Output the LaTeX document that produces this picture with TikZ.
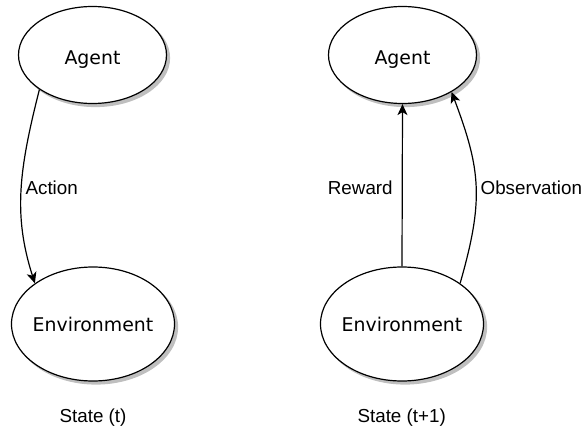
\documentclass[tikz,border=0pt]{standalone}
\usepackage{fontspec}
\newfontfamily\shapefont{DejaVu Sans}
\newfontfamily\labelfont{Liberation Sans}
\usetikzlibrary{arrows.meta,shapes.geometric}
\tikzset{
  ell/.style={ellipse, draw=black, line width=1.2pt, fill=white, inner sep=0pt,
    preaction={draw=gray!50, fill=gray!50, line width=1.2pt, transform canvas={shift={(3pt,-3pt)}}}},
  shapetxt/.style={font=\shapefont\fontsize{18.9}{22}\selectfont, inner sep=0pt, anchor=base},
  lbl/.style={font=\labelfont\fontsize{18.8}{22}\selectfont, inner sep=0pt, anchor=base},
  conn/.style={draw=black, line width=1.2pt, -{Stealth[length=11pt, width=10pt, inset=3pt]}},
}
\begin{document}
\begin{tikzpicture}[x=1pt, y=-1pt]
\useasboundingbox (0,0) rectangle (584,428);
% left
\node[ell, minimum width=148pt, minimum height=97pt] (la) at (92.5,55) {};
\node[ell, minimum width=163pt, minimum height=114pt] (le) at (93,324) {};
\node[shapetxt] (lat) at (92.5,64.3) {Agent};
\node[shapetxt] (let) at (93,331.7) {Environment};
\draw[conn] (la.213) .. controls (19,170) and (13,215) .. (le.145);
\node[lbl] (act) at (51.7,194.3) {Action};
\node[lbl] (st1) at (93,422) {State (t)};
% right
\node[ell, minimum width=148pt, minimum height=97pt] (ra) at (402.5,55) {};
\node[ell, minimum width=163pt, minimum height=114pt] (re) at (402,324) {};
\node[shapetxt] (rat) at (402.5,64.3) {Agent};
\node[shapetxt] (ret) at (402,331.7) {Environment};
\draw[conn] (re.north) -- (ra.south);
\draw[conn] (re.35) .. controls (484,200) and (481,170) .. (ra.-37);
\node[lbl] (rew) at (360.3,194.3) {Reward};
\node[lbl] (obs) at (531.3,194.3) {Observation};
\node[lbl] (st2) at (401.7,422) {State (t+1)};
\end{tikzpicture}
\end{document}
